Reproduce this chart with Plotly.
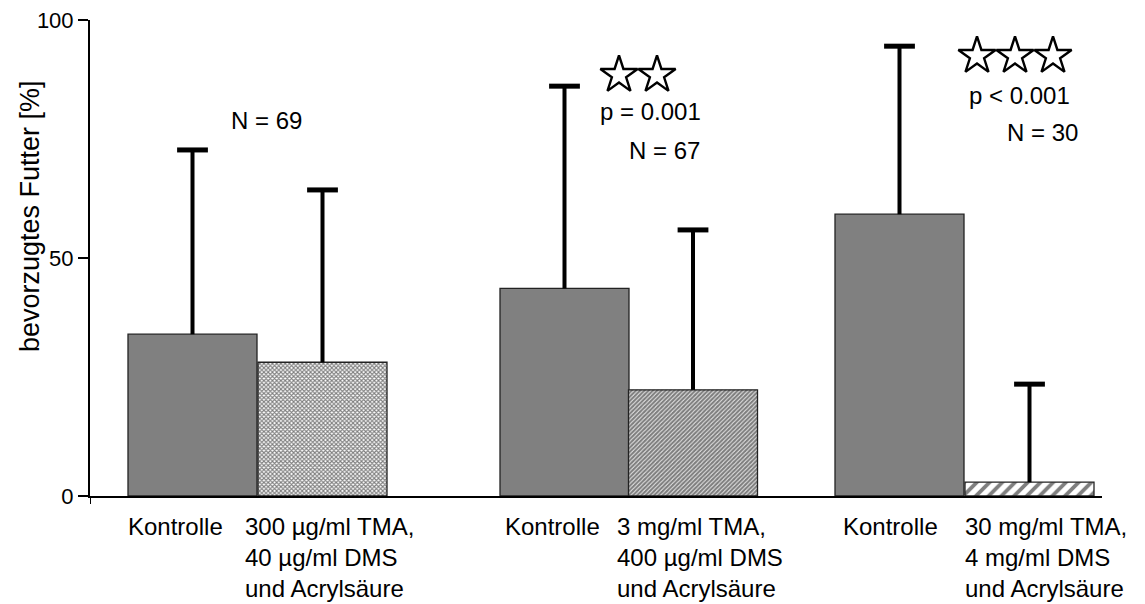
import plotly.graph_objects as go

# ---- data ----
categories = [
    "Kontrolle",
    "300 µg/ml TMA,<br>40 µg/ml DMS<br>und Acrylsäure",
    "Kontrolle",
    "3 mg/ml TMA,<br>400 µg/ml DMS<br>und Acrylsäure",
    "Kontrolle",
    "30 mg/ml TMA,<br>4 mg/ml DMS<br>und Acrylsäure",
]
means = [34.0, 28.1, 43.6, 22.3, 59.2, 2.9]
errors = [38.7, 36.2, 42.5, 33.6, 35.3, 20.6]
group_notes = ["N = 69", "p = 0.001", "N = 67", "p < 0.001", "N = 30"]
star_counts = [2, 3]
y_ticks = [0, 50, 100]
y_title = "bevorzugtes Futter [%]"

# ---- layout (pixel positions in the 1145x604 window) ----
OFF = 8                      # default body margin of the html page
W, H = 1145 - OFF, 604 - OFF
L, R, T, B = 90, 1102, 20, 496   # plot area in window pixels
bar_x = [192.5, 322.5, 564.5, 693.0, 899.5, 1029.5]   # bar centres (px)
bar_w = 129
label_x = [126, 243, 503, 615, 841, 963]
star_x0 = [619, 977]
star_y = [75, 56]
star_step = 38


def X(px):
    return px - L


def PY(py):
    return (B - py) / (B - T)


FONT = "Liberation Sans, Arial, Helvetica, sans-serif"
FS = 22
FS_LBL = 24
FS_NOTE = 24

patterns = [
    None,
    dict(shape="x", size=3, solidity=0.6, fgcolor="#000000", bgcolor="#ffffff"),
    None,
    dict(shape="/", size=3, solidity=0.75, fgcolor="#000000", bgcolor="#ffffff"),
    None,
    dict(shape="/", size=9, solidity=0.42, fgcolor="#000000", bgcolor="#ffffff"),
]

fig = go.Figure()

for i, (m, p) in enumerate(zip(means, patterns)):
    marker = dict(line=dict(color="#222222", width=1.3))
    if p is None:
        marker["color"] = "#808080"
    else:
        marker["color"] = "#ffffff"
        marker["pattern"] = p
    fig.add_trace(go.Bar(
        x=[X(bar_x[i])], y=[m], width=[bar_w], marker=marker,
        showlegend=False, hoverinfo="y",
    ))

# error bars (upper only)
ex, ey = [], []
for i, (m, e) in enumerate(zip(means, errors)):
    ex += [X(bar_x[i]), X(bar_x[i]), None]
    ey += [m, m + e, None]
fig.add_trace(go.Scatter(x=ex, y=ey, mode="lines",
                         line=dict(color="black", width=4),
                         showlegend=False, hoverinfo="skip"))
fig.add_trace(go.Scatter(
    x=[X(c) for c in bar_x], y=[m + e for m, e in zip(means, errors)],
    mode="markers",
    marker=dict(symbol="line-ew-open", size=22, color="black",
                line=dict(color="black", width=5)),
    showlegend=False, hoverinfo="skip"))

# significance stars
sx, sy = [], []
for n, x0, y0 in zip(star_counts, star_x0, star_y):
    for k in range(n):
        sx.append(X(x0 + k * star_step))
        sy.append(PY(y0) * 100)
fig.add_trace(go.Scatter(
    x=sx, y=sy, mode="markers",
    marker=dict(symbol="star-open", size=28, color="black",
                line=dict(color="black", width=2.4)),
    showlegend=False, hoverinfo="skip"))

ann = []
for i, c in enumerate(categories):
    ann.append(dict(x=X(label_x[i]), y=PY(511), xref="x", yref="paper", text=c,
                    xanchor="left", yanchor="top", align="left", showarrow=False,
                    font=dict(family=FONT, size=FS_LBL, color="black")))

note_pos = [(266, 120), (650, 111), (664, 150), (1019, 95), (1042, 132)]
for t, (px, py) in zip(group_notes, note_pos):
    ann.append(dict(x=X(px), y=PY(py), xref="x", yref="paper", text=t,
                    xanchor="center", yanchor="middle", showarrow=False,
                    font=dict(family=FONT, size=FS_NOTE, color="black")))

ann.append(dict(x=(30 - L) / (R - L), y=PY(216), xref="paper", yref="paper",
                text=y_title, textangle=-90, showarrow=False,
                xanchor="center", yanchor="middle",
                font=dict(family=FONT, size=27, color="black")))

fig.update_layout(
    width=W, height=H,
    margin=dict(l=L - OFF, r=(W + OFF) - R, t=T - OFF, b=(H + OFF) - B, pad=0,
                autoexpand=False),
    plot_bgcolor="white", paper_bgcolor="white",
    barmode="overlay",
    annotations=ann,
    xaxis=dict(range=[0, R - L], showgrid=False, zeroline=False, automargin=False,
               showline=True, linecolor="black", linewidth=2,
               showticklabels=False, ticks=""),
    yaxis=dict(range=[0, 100], tickvals=y_ticks, showgrid=False, zeroline=False,
               automargin=False,
               showline=True, linecolor="black", linewidth=2,
               ticks="outside", ticklen=10, tickwidth=2, tickcolor="black",
               ticklabeloverflow="allow",
               tickfont=dict(family=FONT, size=FS, color="black")),
    shapes=[dict(type="line", xref="x", yref="paper", x0=0, x1=0, y0=0,
                 y1=-8 / (B - T), line=dict(color="black", width=2))],
)

fig.write_html("out.html")
